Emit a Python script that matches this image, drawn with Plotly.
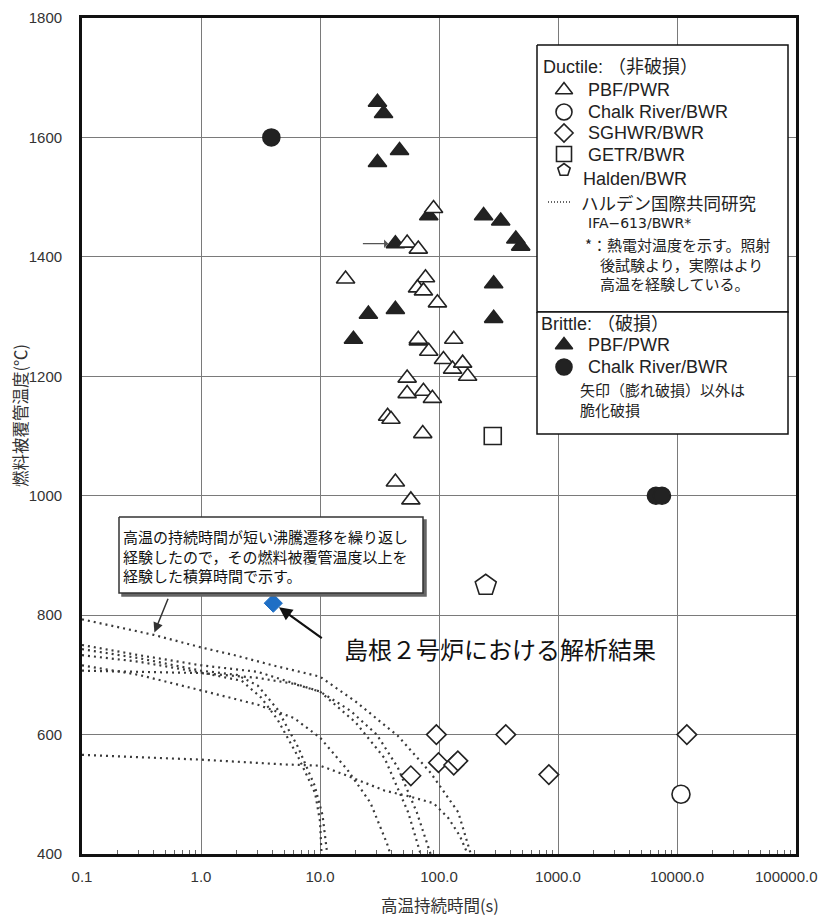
import math
import plotly.graph_objects as go

# ---- data ----
x_tickvals = [0.1, 1, 10, 100, 1000, 10000, 100000]
x_ticktext = ["0.1", "1.0", "10.0", "100.0", "1000.0", "10000.0", "100000.0"]
y_tickvals = [400, 600, 800, 1000, 1200, 1400, 1600, 1800]

# Ductile PBF/PWR (open triangles)
pbf_open_x = [90, 54, 67, 16.4, 77, 66, 74, 97, 67, 82, 133, 109, 130, 158, 174, 54, 54, 74, 88, 37, 39.5, 73, 43, 58]
pbf_open_y = [1481, 1423, 1413, 1363, 1365, 1348, 1343, 1323, 1262, 1242, 1262, 1228, 1212, 1222, 1200, 1197, 1171, 1175, 1163, 1133, 1128, 1104, 1023, 993]

# Brittle PBF/PWR (filled triangles)
pbf_fill_x = [30.4, 34.2, 46.6, 30.4, 82, 237, 330, 486, 442, 43, 288, 288, 43, 25.5, 19.1, 67]
pbf_fill_y = [1659, 1640, 1578, 1558, 1469, 1469, 1460, 1418, 1430, 1422, 1355, 1297, 1312, 1304, 1262, 1259]

# Chalk River/BWR
chalk_fill_x = [3.9, 6650, 7480]
chalk_fill_y = [1600, 1000, 1000]
chalk_open_x = [10800]
chalk_open_y = [500]

# SGHWR/BWR
sghwr_x = [95, 99, 133, 144, 58, 364, 838, 12100]
sghwr_y = [600, 553, 549, 556, 531, 600, 533, 600]

# GETR/BWR, Halden/BWR
getr_x, getr_y = [283], [1100]
halden_x, halden_y = [247], [850]

# Shimane unit 2 analysis result
shimane_x, shimane_y = [4.05], [820]

# Halden IFA-613 (dotted curves)
ifa_curves = [
    ([0.1, 0.2, 0.4, 1, 2, 4, 10, 20, 45, 85, 145, 185],
     [793, 780, 767, 746, 732, 716, 697, 655, 598, 536, 470, 400]),
    ([0.1, 0.3, 1, 3, 10, 18, 30, 45, 65, 85],
     [750, 733, 716, 705, 672, 640, 600, 545, 470, 400]),
    ([0.1, 0.3, 1, 3, 6, 10, 20, 35, 55, 70],
     [707, 705, 703, 695, 685, 672, 620, 560, 470, 400]),
    ([0.1, 0.3, 1, 2, 3, 4.4, 6.5, 9, 10.5, 11.5],
     [743, 728, 707, 700, 682, 642, 580, 515, 465, 400]),
    ([0.1, 0.3, 1, 2.2, 3.2, 4.4, 6.5, 9.1, 10.0, 10.3],
     [733, 722, 704, 690, 662, 625, 564, 502, 455, 400]),
    ([0.1, 0.3, 1, 3, 6, 10, 17, 26.5, 36.5, 39],
     [716, 700, 674, 650, 628, 595, 541, 486, 418, 400]),
    ([0.1, 1, 5, 10, 17, 24, 35, 55, 90, 120, 150, 174],
     [566, 558, 550, 548, 531, 519, 506, 497, 485, 460, 430, 400]),
]

DARK = "#222"
FONT = "Liberation Sans, Arial, Noto Sans CJK JP, sans-serif"
JFONT = "Noto Sans CJK JP, sans-serif"

fig = go.Figure()

for cx, cy in ifa_curves:
    fig.add_trace(go.Scatter(x=cx, y=cy, mode="lines",
                             line=dict(color="#3a3a3a", width=2.2, dash="2px,4px"),
                             showlegend=False, hoverinfo="skip"))


def marks(x, y, symbol, size, fill, line=DARK, lw=1.6, name=""):
    return go.Scatter(x=x, y=y, mode="markers", name=name, showlegend=False,
                      marker=dict(symbol=symbol, size=size, color=fill,
                                  line=dict(color=line, width=lw)))


fig.add_trace(marks(pbf_fill_x, pbf_fill_y, "triangle-up", 16, DARK, name="PBF/PWR brittle"))
fig.add_trace(marks(pbf_open_x, pbf_open_y, "triangle-up", 16, "white", name="PBF/PWR ductile"))
fig.add_trace(marks(chalk_fill_x, chalk_fill_y, "circle", 17, DARK, name="Chalk River brittle"))
fig.add_trace(marks(chalk_open_x, chalk_open_y, "circle", 18, "white", name="Chalk River ductile"))
fig.add_trace(marks(sghwr_x, sghwr_y, "diamond", 15, "white", name="SGHWR/BWR"))
fig.add_trace(marks(getr_x, getr_y, "square", 17, "white", name="GETR/BWR"))
fig.add_trace(marks(halden_x, halden_y, "pentagon", 22, "white", name="Halden/BWR"))
fig.add_trace(marks(shimane_x, shimane_y, "diamond", 14, "#1f6fc5", line="#1f6fc5", lw=1, name="Shimane-2"))

# ---- overlay (page pixel) axis for legend boxes and note box ----
def box(x0, y0, x1, y1, fill="white", line="#111", width=1.5):
    return go.Scatter(x=[x0, x1, x1, x0, x0], y=[y0, y0, y1, y1, y0], mode="lines",
                      fill="toself", fillcolor=fill, line=dict(color=line, width=width),
                      xaxis="x2", yaxis="y2", hoverinfo="skip", showlegend=False)


fig.add_trace(box(537, 45, 788, 312))
fig.add_trace(box(537, 312, 788, 434))
fig.add_trace(box(122, 520, 426, 596, fill="#666", line="#666"))
fig.add_trace(box(119, 517, 423, 593, line="#333"))


def legsym(x, y, symbol, size, fill):
    return go.Scatter(x=[x], y=[y], mode="markers", xaxis="x2", yaxis="y2",
                      showlegend=False, hoverinfo="skip",
                      marker=dict(symbol=symbol, size=size, color=fill,
                                  line=dict(color=DARK, width=1.6)))


fig.add_trace(legsym(564, 90, "triangle-up", 15, "white"))
fig.add_trace(legsym(564, 112, "circle", 16, "white"))
fig.add_trace(legsym(564, 133, "diamond", 14, "white"))
fig.add_trace(legsym(564, 170, "pentagon", 13, "white"))
fig.add_trace(legsym(564, 154, "square", 15, "white"))
fig.add_trace(go.Scatter(x=[548, 572], y=[202, 202], mode="lines", xaxis="x2", yaxis="y2",
                         line=dict(color="#333", width=1.5, dash="1px,2px"),
                         showlegend=False, hoverinfo="skip"))
fig.add_trace(legsym(564, 345, "triangle-up", 15, DARK))
fig.add_trace(legsym(564, 367, "circle", 16, DARK))

ann = []


def txt(x, y, s, size=15, font=FONT, color="#222"):
    ann.append(dict(x=x, y=y, xref="x2", yref="y2", text=s, showarrow=False,
                    xanchor="left", yanchor="middle", align="left",
                    font=dict(family=font, size=size, color=color)))


txt(541, 67, "Ductile: （非破損）", 18)
txt(586, 90, "PBF/PWR", 18)
txt(586, 112, "Chalk River/BWR", 18)
txt(586, 133, "SGHWR/BWR", 18)
txt(586, 155, "GETR/BWR", 18)
txt(581, 179, "Halden/BWR", 18)
txt(579, 202, "ハルデン国際共同研究", 17.5, JFONT)
txt(586, 223, "IFA−613/BWR*", 14, "DejaVu Sans, sans-serif")
txt(583, 264, "*：熱電対温度を示す。照射<br>　後試験より，実際はより<br>　高温を経験している。", 15, JFONT)
txt(539, 324, "Brittle: （破損）", 18)
txt(586, 345, "PBF/PWR", 18)
txt(586, 367, "Chalk River/BWR", 18)
txt(578, 399, "矢印（膨れ破損）以外は<br>脆化破損", 15, JFONT)

txt(121, 556, "高温の持続時間が短い沸騰遷移を繰り返し<br>経験したので，その燃料被覆管温度以上を<br>経験した積算時間で示す。",
    15, JFONT, "#111")

txt(342, 648, "島根２号炉における解析結果", 24, JFONT, "#111")

# arrows
ann.append(dict(x=math.log10(pbf_fill_x[9]), y=pbf_fill_y[9], ax=-34, ay=0, text="",
                showarrow=True, arrowhead=1, arrowsize=1.2, arrowwidth=1.2,
                arrowcolor="#555", standoff=7))
ann.append(dict(x=math.log10(shimane_x[0]), y=shimane_y[0], ax=50, ay=36, text="",
                showarrow=True, arrowhead=2, arrowsize=1.2, arrowwidth=2.2,
                arrowcolor="#111", standoff=7))
ann.append(dict(x=math.log10(0.4), y=768, ax=15, ay=-37, text="",
                showarrow=True, arrowhead=2, arrowsize=1.3, arrowwidth=1.5,
                arrowcolor="#333", standoff=2))

# last x tick label drawn right-aligned so it stays inside the page
ann.append(dict(x=1.033, y=-0.0265, xref="paper", yref="paper", text=x_ticktext[-1],
                xanchor="right", yanchor="middle", showarrow=False,
                font=dict(family=FONT, size=15, color="#333")))

# axis titles
ann.append(dict(x=0.502, y=-0.061, xref="paper", yref="paper", text="高温持続時間(s)",
                xanchor="center", yanchor="middle",
                showarrow=False, font=dict(family=JFONT, size=16.5, color="#333")))
ann.append(dict(x=-0.087, y=0.525, xref="paper", yref="paper", text="燃料被覆管温度(℃)",
                xanchor="center", yanchor="middle",
                showarrow=False, textangle=-90, font=dict(family=JFONT, size=16.5, color="#333")))

minor_vals = [k * 10 ** e for e in range(-1, 5) for k in range(2, 10)]

# page body has an 8px margin, so the figure is drawn a bit smaller and shifted
fig.update_layout(
    width=816, height=912,
    margin=dict(l=74, r=28, t=10, b=66, autoexpand=False),
    paper_bgcolor="white", plot_bgcolor="white",
    font=dict(family=FONT, size=15, color="#333"),
    showlegend=False,
    xaxis=dict(type="log", range=[-1, 5], tickvals=x_tickvals,
               ticktext=x_ticktext[:-1] + [""],
               automargin=False,
               showgrid=True, gridcolor="#7a7a7a", gridwidth=1.2,
               showline=True, linecolor="#111", linewidth=2.8, mirror=True,
               ticks="", ticklabelstandoff=7, zeroline=False,
               minor=dict(tickvals=minor_vals, ticks="inside", ticklen=4,
                          tickcolor="#666", showgrid=False),
               tickfont=dict(family=FONT, size=15, color="#333")),
    yaxis=dict(range=[400, 1800], tickvals=y_tickvals, automargin=False,
               showgrid=True, gridcolor="#7a7a7a", gridwidth=1.2,
               showline=True, linecolor="#111", linewidth=2.8, mirror=True,
               ticks="", ticklabelstandoff=14, zeroline=False,
               tickfont=dict(family=FONT, size=15, color="#333")),
    xaxis2=dict(overlaying="x", anchor="y2", range=[82, 796], visible=False,
                fixedrange=True, automargin=False),
    yaxis2=dict(overlaying="y", anchor="x2", range=[854, 18], visible=False,
                fixedrange=True, automargin=False),
    annotations=ann,
)

fig.write_html("out.html")
